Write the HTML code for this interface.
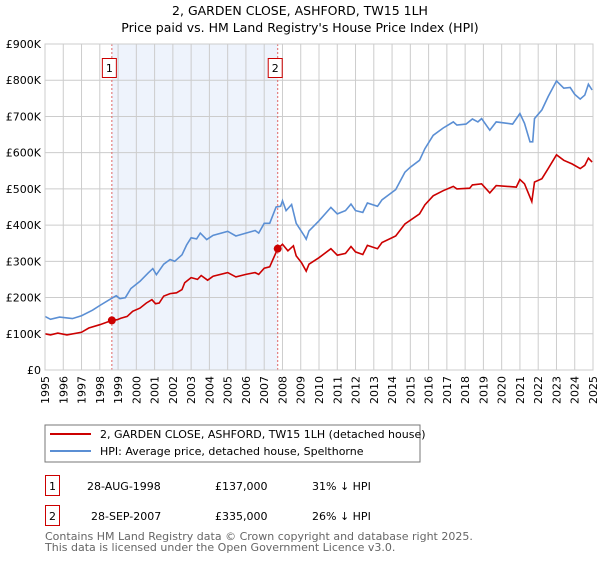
<!DOCTYPE html>
<html><head><meta charset="utf-8"><style>
body{margin:0;background:#fff;font-family:"DejaVu Sans","Liberation Sans",sans-serif;}
svg text{font-family:"DejaVu Sans","Liberation Sans",sans-serif;}
</style></head><body>
<svg id="c" width="600" height="560" xmlns="http://www.w3.org/2000/svg">
<text x="300" y="15" font-size="12.5" text-anchor="middle">2, GARDEN CLOSE, ASHFORD, TW15 1LH</text>
<text x="300" y="32" font-size="12.5" text-anchor="middle">Price paid vs. HM Land Registry's House Price Index (HPI)</text>
<g id="plot"></g>
<rect x="45" y="425" width="375" height="37" fill="#fff" stroke="#777"/>
<line x1="50" y1="434" x2="91" y2="434" stroke="#cc0000" stroke-width="2"/>
<text x="100" y="438" font-size="11">2, GARDEN CLOSE, ASHFORD, TW15 1LH (detached house)</text>
<line x1="50" y1="451" x2="91" y2="451" stroke="#5b8fd4" stroke-width="2"/>
<text x="100" y="455" font-size="11">HPI: Average price, detached house, Spelthorne</text>
<rect x="45.5" y="475.5" width="14" height="20" fill="none" stroke="#cc0000"/>
<text x="52.5" y="490" font-size="11" text-anchor="middle">1</text>
<text x="87" y="490" font-size="11">28-AUG-1998</text>
<text x="215" y="490" font-size="11">£137,000</text>
<text x="312" y="490" font-size="11">31% ↓ HPI</text>
<rect x="45.5" y="505.5" width="14" height="20" fill="none" stroke="#cc0000"/>
<text x="52.5" y="520" font-size="11" text-anchor="middle">2</text>
<text x="91" y="520" font-size="11">28-SEP-2007</text>
<text x="215" y="520" font-size="11">£335,000</text>
<text x="312" y="520" font-size="11">26% ↓ HPI</text>
<text x="45" y="540" font-size="11" fill="#666">Contains HM Land Registry data © Crown copyright and database right 2025.</text>
<text x="45" y="551" font-size="11" fill="#666">This data is licensed under the Open Government Licence v3.0.</text>
</svg>
<script>
const hpiYears=[1995,1995.3,1995.8,1996.5,1997,1997.6,1998,1998.55,1998.9,1999.1,1999.4,1999.7,2000.2,2000.65,2000.9,2001.1,2001.5,2001.85,2002.1,2002.5,2002.75,2003,2003.3,2003.5,2003.85,2004.2,2005,2005.45,2006,2006.5,2006.7,2007,2007.3,2007.65,2007.9,2008.0,2008.2,2008.5,2008.75,2009.2,2009.3,2009.45,2010,2010.65,2011,2011.45,2011.75,2012,2012.4,2012.65,2013.2,2013.45,2014.2,2014.7,2015,2015.5,2015.8,2016.25,2016.8,2017.35,2017.55,2018.05,2018.4,2018.7,2018.9,2019.35,2019.7,2020.6,2021.0,2021.25,2021.55,2021.7,2021.8,2022.2,2022.55,2023.0,2023.4,2023.75,2024.0,2024.3,2024.55,2024.75,2024.95];
const hpiValues=[148,140,146,142,150,165,178,195,205,197,200,225,245,268,280,263,292,305,300,318,345,365,362,378,360,372,383,370,378,385,378,405,405,450,452,467,440,457,405,370,361,384,412,449,431,440,458,440,435,461,452,470,498,546,560,579,611,648,668,685,676,679,693,685,694,662,685,679,708,681,630,630,694,718,755,798,778,780,761,748,759,789,773];
const priceYears=[1995,1995.3,1995.7,1996.2,1997,1997.4,1998,1998.66,1998.95,1999.15,1999.5,1999.8,2000.2,2000.55,2000.85,2001.05,2001.25,2001.5,2001.85,2002.2,2002.5,2002.65,2003,2003.35,2003.55,2003.9,2004.2,2005,2005.45,2006,2006.5,2006.7,2007,2007.3,2007.74,2008,2008.3,2008.6,2008.75,2009.05,2009.3,2009.45,2010,2010.65,2011,2011.45,2011.75,2012,2012.4,2012.65,2013.2,2013.45,2014.2,2014.7,2015.5,2015.8,2016.25,2016.8,2017.35,2017.55,2018.25,2018.4,2018.9,2019.35,2019.7,2020.8,2021.0,2021.25,2021.65,2021.8,2022.2,2022.55,2023.0,2023.4,2023.85,2024.3,2024.55,2024.75,2024.95];
const priceValues=[100,97,102,97,104,116,125,137,139,143,148,162,171,185,194,183,185,204,211,213,222,241,255,250,261,248,259,269,257,264,269,264,281,285,335,347,329,343,315,296,273,292,310,335,317,322,341,326,319,344,335,352,370,403,431,456,481,495,507,500,502,511,514,489,509,505,526,514,465,519,528,556,594,579,569,556,565,585,574];
const sales=[{n:'1',year:1998.66,value:137},{n:'2',year:2007.74,value:335}];
const yTicks=[0,100,200,300,400,500,600,700,800,900];
const yTickLabels=['£0','£100K','£200K','£300K','£400K','£500K','£600K','£700K','£800K','£900K'];
const xTicks=[1995,1996,1997,1998,1999,2000,2001,2002,2003,2004,2005,2006,2007,2008,2009,2010,2011,2012,2013,2014,2015,2016,2017,2018,2019,2020,2021,2022,2023,2024,2025];
const L=45,R=593,T=44,B=370;
const X=y=>L+(y-1995)/30*(R-L);
const Y=v=>B-v/900*(B-T);
const NS='http://www.w3.org/2000/svg';
const g=document.getElementById('plot');
function mk(t,a,p){const e=document.createElementNS(NS,t);for(const k in a)e.setAttribute(k,a[k]);(p||g).appendChild(e);return e;}
let band=mk('rect',{x:X(sales[0].year),y:T,width:X(sales[1].year)-X(sales[0].year),height:B-T,fill:'#eef3fc'});


xTicks.forEach(t=>{let l=mk('line',{x1:X(t),x2:X(t),y1:T,y2:B,stroke:'#ccc'});


let tx=mk('text',{x:0,y:0,'font-size':11,'text-anchor':'end',transform:`translate(${X(t)+4},${B+6}) rotate(-90)`});tx.textContent=t;

});
yTicks.forEach((t,i)=>{let l=mk('line',{x1:L,x2:R,y1:Y(t),y2:Y(t),stroke:'#ccc'});


let tx=mk('text',{x:L-4,y:Y(t)+4,'font-size':11,'text-anchor':'end'});tx.textContent=yTickLabels[i];

});
sales.forEach(s=>{let l=mk('line',{x1:X(s.year),x2:X(s.year),y1:T,y2:B,stroke:'#e06666','stroke-dasharray':'2,2'});


let r=mk('rect',{x:X(s.year)-9.5,y:58.5,width:14,height:19,fill:'#fff',stroke:'#cc0000'});


let tx=mk('text',{x:X(s.year)-2.5,y:72,'font-size':11,'text-anchor':'middle'});tx.textContent=s.n;});
function path(xs,vs,c,n){let d=xs.map((y,i)=>(i?'L':'M')+X(y).toFixed(1)+','+Y(vs[i]).toFixed(1)).join('');
let p=mk('path',{d:d,fill:'none',stroke:c,'stroke-width':1.6});

}
path(hpiYears,hpiValues,'#5b8fd4','hpi-line');
path(priceYears,priceValues,'#cc0000','price-line');
sales.forEach(s=>{let c=mk('circle',{cx:X(s.year),cy:Y(s.value),r:4,fill:'#cc0000'});

});
let ax=mk('rect',{x:L,y:T,width:R-L,height:B-T,fill:'none',stroke:'#ccc'});


</script>
</body></html>
